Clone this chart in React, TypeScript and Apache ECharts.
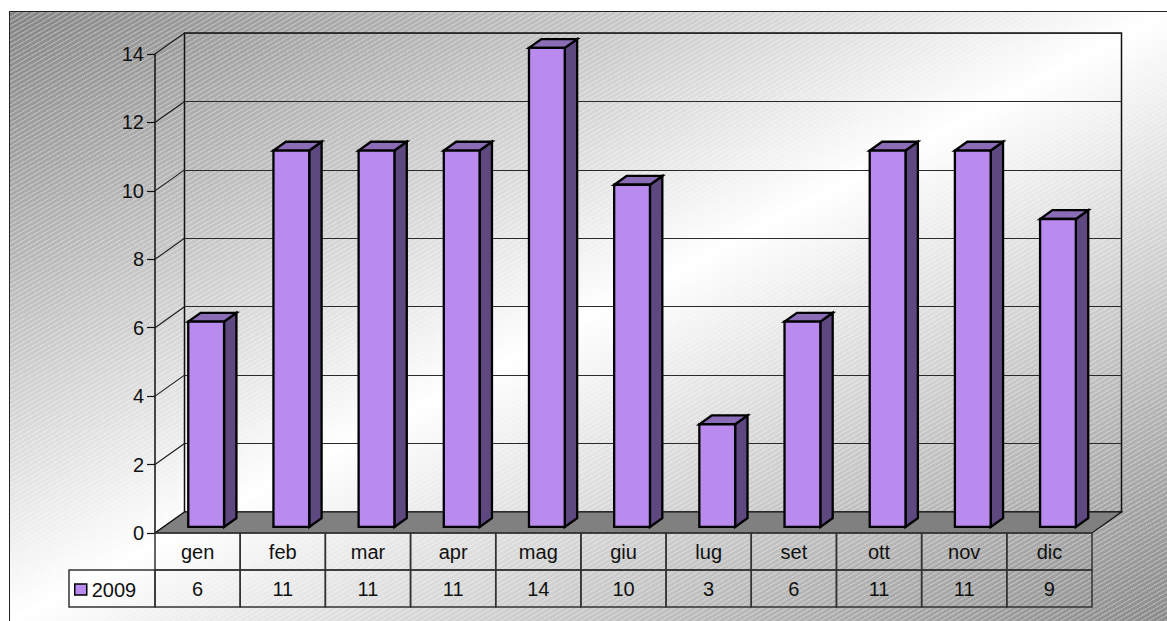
import React, { useEffect, useRef } from "react";
import * as echarts from "echarts";

// Monthly counts for 2009
const months = ["gen", "feb", "mar", "apr", "mag", "giu", "lug", "set", "ott", "nov", "dic"];
const values2009 = [6, 11, 11, 11, 14, 10, 3, 6, 11, 11, 9];
const seriesName = "2009";
const yTicks = [0, 2, 4, 6, 8, 10, 12, 14];

const FONT = "'Liberation Sans', Arial, Helvetica, sans-serif";
const FONT_SIZE = 20;
// depth of the 3D box (pixels)
const DX = 29.5;
const DY = -21;
// bar placement inside the depth and inside the category band
const BAR_FRONT = 0.29;
const BAR_BACK = 0.71;
const BAR_WIDTH = 0.42;
// data table below the floor
const ROW_H = 37;
const LEGEND_CELL_W = 86;

const FACE = "#b98bef";
const SIDE = "#5d4880";
const TOP = "#8b6cb6";

export default function App() {
  const ref = useRef<HTMLDivElement>(null);

  useEffect(() => {
    const chart = echarts.init(ref.current!, undefined, { renderer: "svg" });

    const sideWall = {
      type: "custom",
      xAxisIndex: 0,
      yAxisIndex: 0,
      silent: true,
      data: yTicks.map((v) => [0, v]),
      renderItem: (params: any, api: any) => {
        const p = api.coord([0, api.value(1)]);
        const bw = api.size([1, 0])[0];
        const x = p[0] - bw / 2;
        return {
          type: "line",
          shape: { x1: x, y1: p[1], x2: x + DX, y2: p[1] + DY },
          style: { stroke: "#1a1a1a", lineWidth: 1.1 },
        };
      },
      z: 1,
    };

    const floor = {
      type: "custom",
      xAxisIndex: 0,
      yAxisIndex: 0,
      silent: true,
      data: [[0, 0]],
      renderItem: (params: any, api: any) => {
        const bw = api.size([1, 0])[0];
        const a = api.coord([0, 0]);
        const b = api.coord([months.length - 1, 0]);
        const l = a[0] - bw / 2;
        const r = b[0] + bw / 2;
        const y = a[1];
        return {
          type: "polygon",
          shape: { points: [[l, y], [r, y], [r + DX, y + DY], [l + DX, y + DY]] },
          style: { fill: "#808080", stroke: "#111", lineWidth: 1.2 },
        };
      },
      z: 2,
    };

    const bars = {
      type: "custom",
      name: seriesName,
      xAxisIndex: 0,
      yAxisIndex: 0,
      itemStyle: { color: FACE },
      data: values2009.map((v, i) => [i, v]),
      renderItem: (params: any, api: any) => {
        const i = api.value(0);
        const v = api.value(1);
        const top = api.coord([i, v]);
        const base = api.coord([i, 0]);
        const bw = api.size([1, 0])[0];
        const w = bw * BAR_WIDTH;
        const x0 = base[0] - w / 2 + DX * BAR_FRONT;
        const x1 = x0 + w;
        const yB = base[1] + DY * BAR_FRONT;
        const yT = top[1] + DY * BAR_FRONT;
        const ddx = DX * (BAR_BACK - BAR_FRONT);
        const ddy = DY * (BAR_BACK - BAR_FRONT);
        const edge = { stroke: "#000", lineWidth: 2.3, lineJoin: "miter" };
        return {
          type: "group",
          children: [
            {
              type: "polygon",
              shape: { points: [[x1, yT], [x1 + ddx, yT + ddy], [x1 + ddx, yB + ddy], [x1, yB]] },
              style: { fill: SIDE, ...edge },
            },
            {
              type: "polygon",
              shape: { points: [[x0, yT], [x1, yT], [x1 + ddx, yT + ddy], [x0 + ddx, yT + ddy]] },
              style: { fill: TOP, ...edge },
            },
            {
              type: "polygon",
              shape: { points: [[x0, yT], [x1, yT], [x1, yB], [x0, yB]] },
              style: { fill: FACE, ...edge },
            },
          ],
        };
      },
      z: 3,
    };

    const table = {
      type: "custom",
      xAxisIndex: 0,
      yAxisIndex: 0,
      silent: true,
      data: values2009.map((v, i) => [i, v]),
      renderItem: (params: any, api: any) => {
        const i = api.value(0);
        const c = api.coord([i, 0]);
        const bw = api.size([1, 0])[0];
        const x = c[0] - bw / 2;
        const y = c[1];
        const cell = { fill: "none", stroke: "#333", lineWidth: 1.5 };
        const txt = { fontSize: FONT_SIZE, fontFamily: FONT, fill: "#111", align: "center", verticalAlign: "middle" };
        const children: any[] = [
          { type: "rect", shape: { x, y, width: bw, height: ROW_H }, style: cell },
          { type: "rect", shape: { x, y: y + ROW_H, width: bw, height: ROW_H }, style: cell },
          { type: "text", x: c[0], y: y + ROW_H / 2, style: { text: months[i], ...txt } },
          { type: "text", x: c[0], y: y + ROW_H * 1.5, style: { text: String(api.value(1)), ...txt } },
        ];
        if (i === 0) {
          children.push({
            type: "rect",
            shape: { x: x - LEGEND_CELL_W, y: y + ROW_H, width: LEGEND_CELL_W, height: ROW_H },
            style: cell,
          });
        }
        return { type: "group", children };
      },
      z: 4,
    };

    chart.setOption({
      animation: false,
      backgroundColor: "transparent",
      grid: [
        { left: 155, right: 75, top: 54, bottom: 88 },
        {
          left: 184.5,
          right: 45.5,
          top: 33,
          bottom: 109,
          show: true,
          borderColor: "#111",
          borderWidth: 1.5,
          backgroundColor: "transparent",
        },
      ],
      xAxis: [
        { gridIndex: 0, type: "category", data: months, show: false },
        { gridIndex: 1, type: "category", data: months, show: false },
      ],
      yAxis: [
        {
          gridIndex: 0,
          type: "value",
          min: 0,
          max: 14,
          interval: 2,
          axisLine: { show: true, lineStyle: { color: "#111", width: 1.5 } },
          axisTick: { show: true, length: 8, lineStyle: { color: "#111", width: 1.2 } },
          axisLabel: { fontSize: FONT_SIZE, color: "#111", fontFamily: FONT, margin: 11 },
          splitLine: { show: false },
        },
        {
          gridIndex: 1,
          type: "value",
          min: 0,
          max: 14,
          interval: 2,
          axisLine: { show: false },
          axisTick: { show: false },
          axisLabel: { show: false },
          splitLine: { show: true, lineStyle: { color: "#2a2a2a", width: 1.2 } },
        },
      ],
      legend: {
        data: [seriesName],
        left: 74,
        top: 578,
        padding: 0,
        icon: "rect",
        itemWidth: 12,
        itemHeight: 11,
        itemStyle: { color: FACE, borderColor: "#000", borderWidth: 1.5 },
        textStyle: { fontSize: FONT_SIZE, fontFamily: FONT, color: "#111", lineHeight: 23 },
        selectedMode: false,
      },
      series: [sideWall, floor, bars, table],
    });

    return () => chart.dispose();
  }, []);

  const background =
    "repeating-linear-gradient(150deg, rgba(255,255,255,0.3) 0px, rgba(255,255,255,0.3) 1px, rgba(255,255,255,0) 1.5px, rgba(255,255,255,0) 4px), " +
    "linear-gradient(to bottom right, #858585 0%, #ffffff 50%, #8a8a8a 100%)";

  return (
    <div style={{ position: "absolute", left: 0, top: 0, width: 1167, height: 621, overflow: "hidden", background: "#fff" }}>
      <div
        style={{
          position: "absolute",
          left: 9,
          top: 11,
          width: 1158,
          height: 610,
          borderLeft: "1.5px solid #222",
          borderTop: "1.5px solid #222",
          background,
        }}
      />
      <div ref={ref} style={{ position: "absolute", left: 0, top: 0, width: 1167, height: 621 }} />
    </div>
  );
}
